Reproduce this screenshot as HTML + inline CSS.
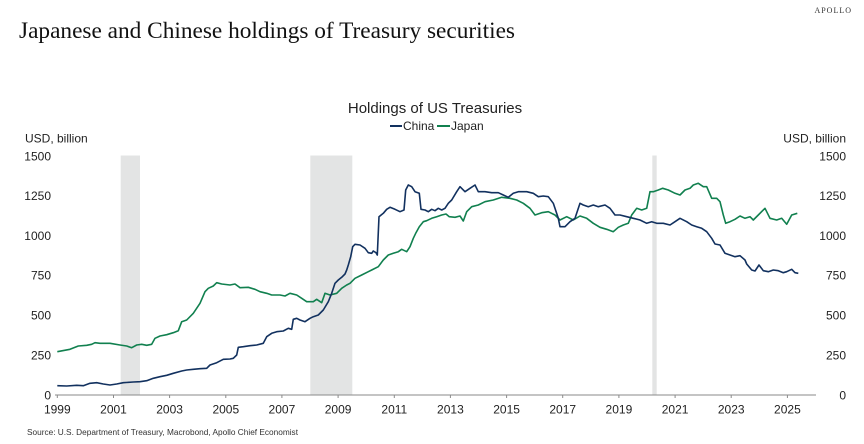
<!DOCTYPE html>
<html>
<head>
<meta charset="utf-8">
<style>
  html, body { margin:0; padding:0; background:#ffffff; }
  body { width:864px; height:444px; overflow:hidden; }
  svg { display:block; }
  .sans { font-family: "Liberation Sans", "DejaVu Sans", sans-serif; }
  .serif { font-family: "Liberation Serif", "DejaVu Serif", serif; }
</style>
</head>
<body>
<svg width="864" height="444" viewBox="0 0 864 444" xmlns="http://www.w3.org/2000/svg">
  <rect x="0" y="0" width="864" height="444" fill="#ffffff"/>

  <!-- Header -->
  <text x="852" y="13" class="serif" font-size="8" letter-spacing="1" fill="#333" text-anchor="end">APOLLO</text>
  <text x="19" y="38" class="serif" font-size="23" fill="#111" textLength="496" lengthAdjust="spacingAndGlyphs">Japanese and Chinese holdings of Treasury securities</text>

  <!-- Chart title & legend -->
  <text x="435" y="113" class="sans" font-size="15" fill="#222" text-anchor="middle">Holdings of US Treasuries</text>
  <line x1="390" y1="126" x2="402" y2="126" stroke="#12315f" stroke-width="2"/>
  <text x="403" y="130" class="sans" font-size="12" fill="#222">China</text>
  <line x1="437" y1="126" x2="450" y2="126" stroke="#11804f" stroke-width="2"/>
  <text x="451" y="130" class="sans" font-size="12" fill="#222">Japan</text>

  <!-- Axis titles -->
  <text x="25" y="142.5" class="sans" font-size="12" fill="#222">USD, billion</text>
  <text x="846" y="142.5" class="sans" font-size="12" fill="#222" text-anchor="end">USD, billion</text>

  <!-- Recession bands -->
  <rect x="120.7" y="155.5" width="19.3" height="239.5" fill="#e3e4e4"/>
  <rect x="310.3" y="155.5" width="42" height="239.5" fill="#e3e4e4"/>
  <rect x="652.3" y="155.5" width="4.4" height="239.5" fill="#e3e4e4"/>

  <!-- Left Y labels -->
  <g class="sans" font-size="12" fill="#222" text-anchor="end">
    <text x="51" y="160.3">1500</text>
    <text x="51" y="200.1">1250</text>
    <text x="51" y="239.9">1000</text>
    <text x="51" y="279.7">750</text>
    <text x="51" y="319.5">500</text>
    <text x="51" y="359.3">250</text>
    <text x="51" y="399.3">0</text>
  </g>
  <!-- Right Y labels -->
  <g class="sans" font-size="12" fill="#222" text-anchor="end">
    <text x="846" y="160.3">1500</text>
    <text x="846" y="200.1">1250</text>
    <text x="846" y="239.9">1000</text>
    <text x="846" y="279.7">750</text>
    <text x="846" y="319.5">500</text>
    <text x="846" y="359.3">250</text>
    <text x="846" y="399.3">0</text>
  </g>

  <!-- X axis -->
  <line x1="55" y1="395" x2="816" y2="395" stroke="#8a8a8a" stroke-width="1"/>
  <g stroke="#8a8a8a" stroke-width="1">
    <line x1="57.3" y1="395" x2="57.3" y2="398"/>
    <line x1="113.5" y1="395" x2="113.5" y2="398"/>
    <line x1="169.6" y1="395" x2="169.6" y2="398"/>
    <line x1="225.8" y1="395" x2="225.8" y2="398"/>
    <line x1="281.9" y1="395" x2="281.9" y2="398"/>
    <line x1="338.1" y1="395" x2="338.1" y2="398"/>
    <line x1="394.3" y1="395" x2="394.3" y2="398"/>
    <line x1="450.4" y1="395" x2="450.4" y2="398"/>
    <line x1="506.6" y1="395" x2="506.6" y2="398"/>
    <line x1="562.7" y1="395" x2="562.7" y2="398"/>
    <line x1="618.9" y1="395" x2="618.9" y2="398"/>
    <line x1="675.1" y1="395" x2="675.1" y2="398"/>
    <line x1="731.2" y1="395" x2="731.2" y2="398"/>
    <line x1="787.4" y1="395" x2="787.4" y2="398"/>
  </g>
  <g class="sans" font-size="12" fill="#222" text-anchor="middle">
    <text x="57.3" y="413.5">1999</text>
    <text x="113.5" y="413.5">2001</text>
    <text x="169.6" y="413.5">2003</text>
    <text x="225.8" y="413.5">2005</text>
    <text x="281.9" y="413.5">2007</text>
    <text x="338.1" y="413.5">2009</text>
    <text x="394.3" y="413.5">2011</text>
    <text x="450.4" y="413.5">2013</text>
    <text x="506.6" y="413.5">2015</text>
    <text x="562.7" y="413.5">2017</text>
    <text x="618.9" y="413.5">2019</text>
    <text x="675.1" y="413.5">2021</text>
    <text x="731.2" y="413.5">2023</text>
    <text x="787.4" y="413.5">2025</text>
  </g>

  <!-- Japan series -->
  <polyline fill="none" stroke="#11804f" stroke-width="1.6" stroke-linejoin="round" points="57.3,351.7 70,349.3 78.3,346 86.7,345.3 91.7,344.3 95,342.7 100,343.3 110,343.3 120,345 126.7,346 131.7,347.7 136.7,345 141.7,344.3 146.7,345.3 151.7,344.3 155,338.3 160,336 166.7,334.7 173.3,332.7 178.3,330.7 181.7,321.7 186.7,320 193.3,313.3 200,303.3 205,291.7 208.3,288.3 213.3,286 216.7,282.7 221.7,284 230,285 235,284 240,287.7 248.3,287.3 255,289.3 260,291.7 266.7,293.3 271.7,295 280,295 285,296 290,293.3 296.7,295 301.7,298.3 306.7,301.7 313.3,301.7 316.7,299.3 321.7,302.7 325,293.3 330,295 336.7,293.3 341.7,288.3 346.7,285 350,283.3 355,278.3 361.7,275 368.3,271.7 371.7,270 378.3,266.7 383.3,260 388.3,255 393.3,253.3 398.3,251.7 401.7,249.3 406.7,251.7 410,246.7 413.3,238.3 416,232.7 419.3,226.7 423.3,221.7 426.7,220.7 431.7,218.3 436.7,216.7 441.7,215 446,214 449.3,216.7 455,217.3 460,216 463.3,221 466.7,211.7 471.7,206.7 478.3,205 485,201.7 493.3,200 501.7,197.3 510,198.3 516.7,200 523.3,203.3 530,208.3 535,215 541.7,212.7 548.3,211.7 555,215 560,220 566.7,216.7 573.3,220 580,216 586.7,218.3 593.3,223.3 600,227.3 606.7,229.3 613.3,231.7 618.3,227.3 623.3,225 628.3,223.3 631.7,215 636.7,208.3 641.7,210 646.7,208.3 650,191.7 653.3,191.7 658.3,190 662.7,188.3 668.3,190 675,193.3 680,195 685,190 690,188.3 693.3,185 698.3,183.3 703.3,186.7 706.7,186.7 711.7,198.3 716.7,198.3 720,201.7 723.3,215 725.7,223.3 730,221.7 735,219.3 740,216 745,218.3 750,216.7 753.3,220 758.3,215 765,208.3 770,218.3 776.7,220 781.7,218.3 786.7,224.3 791.7,215 797.3,213.3"/>

  <!-- China series -->
  <polyline fill="none" stroke="#12315f" stroke-width="1.6" stroke-linejoin="round" points="57.3,385.7 66.7,386 76.7,385.3 83.3,385.7 90,383.3 96.7,382.7 103.3,384 110,385 116.7,384 123.3,382.7 133.3,382 140,381.7 146.7,380.7 153.3,378.3 160,376.7 166.7,375.3 173.3,373.3 181.7,371 186.7,370 193.3,369.3 200,368.7 206.7,368.3 210,365 216.7,362.7 223.3,359.3 230,359 233.3,358.3 236.7,355 238.3,347.3 243.3,346.7 250,345.7 256.7,345 263.3,343.3 266.7,336.7 271.7,333.3 276.7,331.7 283.3,331 288.3,328.3 291.7,329.3 293.3,319.3 296.7,318.3 300,320 305,321.7 310,318.3 313.3,316.7 318.3,315 323.3,310 328.3,301.7 331.7,293.3 335,283.3 338.3,280 341.7,277.3 345,274 346.7,270 348.3,265 350.7,256.7 352.7,246.7 355,244.3 360,245 365,248.3 368.3,252.7 371.7,253.3 373.3,251 376,252.7 377.3,255 379,216.7 383.3,213.3 386.7,209.3 390,207.3 395,209.3 400,211.7 404,210 405.7,190 408.3,185 411.7,186.7 415,191.7 419.3,193.3 421,209.3 425,210 428.3,211.7 431.7,209.3 435,210.7 438.3,208.3 441.7,210 445,208.3 448.3,203.3 451.7,200 456.7,191.7 460,186.7 465,191.7 470,188.3 475,185 478.3,191.7 485,191.7 491.7,192.7 498.3,192.7 503.3,195 508.3,197.3 513.3,193.3 518.3,191.7 526.7,191.7 533.3,193.3 538.3,196.7 543.3,196 548.3,196.7 553.3,203.3 558.3,218.3 560,226.7 565,226.7 570,221.7 575,218.3 580,203.3 583.3,205 588.3,206.7 593.3,205 598.3,206.7 605,205 610,208.3 615,215 620,215 626.7,216.7 633.3,218.3 640,220 646.7,223.3 651.7,221.7 656.7,223.3 663.3,223.3 670,225 675,221.7 680,218.3 686.7,221.7 691.7,225 696.7,226.7 701.7,228.3 706.7,231.7 711.7,238.3 715,244 720,245 725,253.3 730,255 735,256.7 740,255.7 745,260 746.7,264 751.7,270 755,271 759,265 763.3,270.7 768.3,271.7 773.3,270 778.3,270.7 783.3,272.7 786.7,271.7 791.7,269.3 795,272.7 798.3,273.3"/>

  <!-- Source -->
  <text x="27" y="435" class="sans" font-size="8" fill="#333" textLength="271" lengthAdjust="spacingAndGlyphs">Source: U.S. Department of Treasury, Macrobond, Apollo Chief Economist</text>
</svg>
</body>
</html>
